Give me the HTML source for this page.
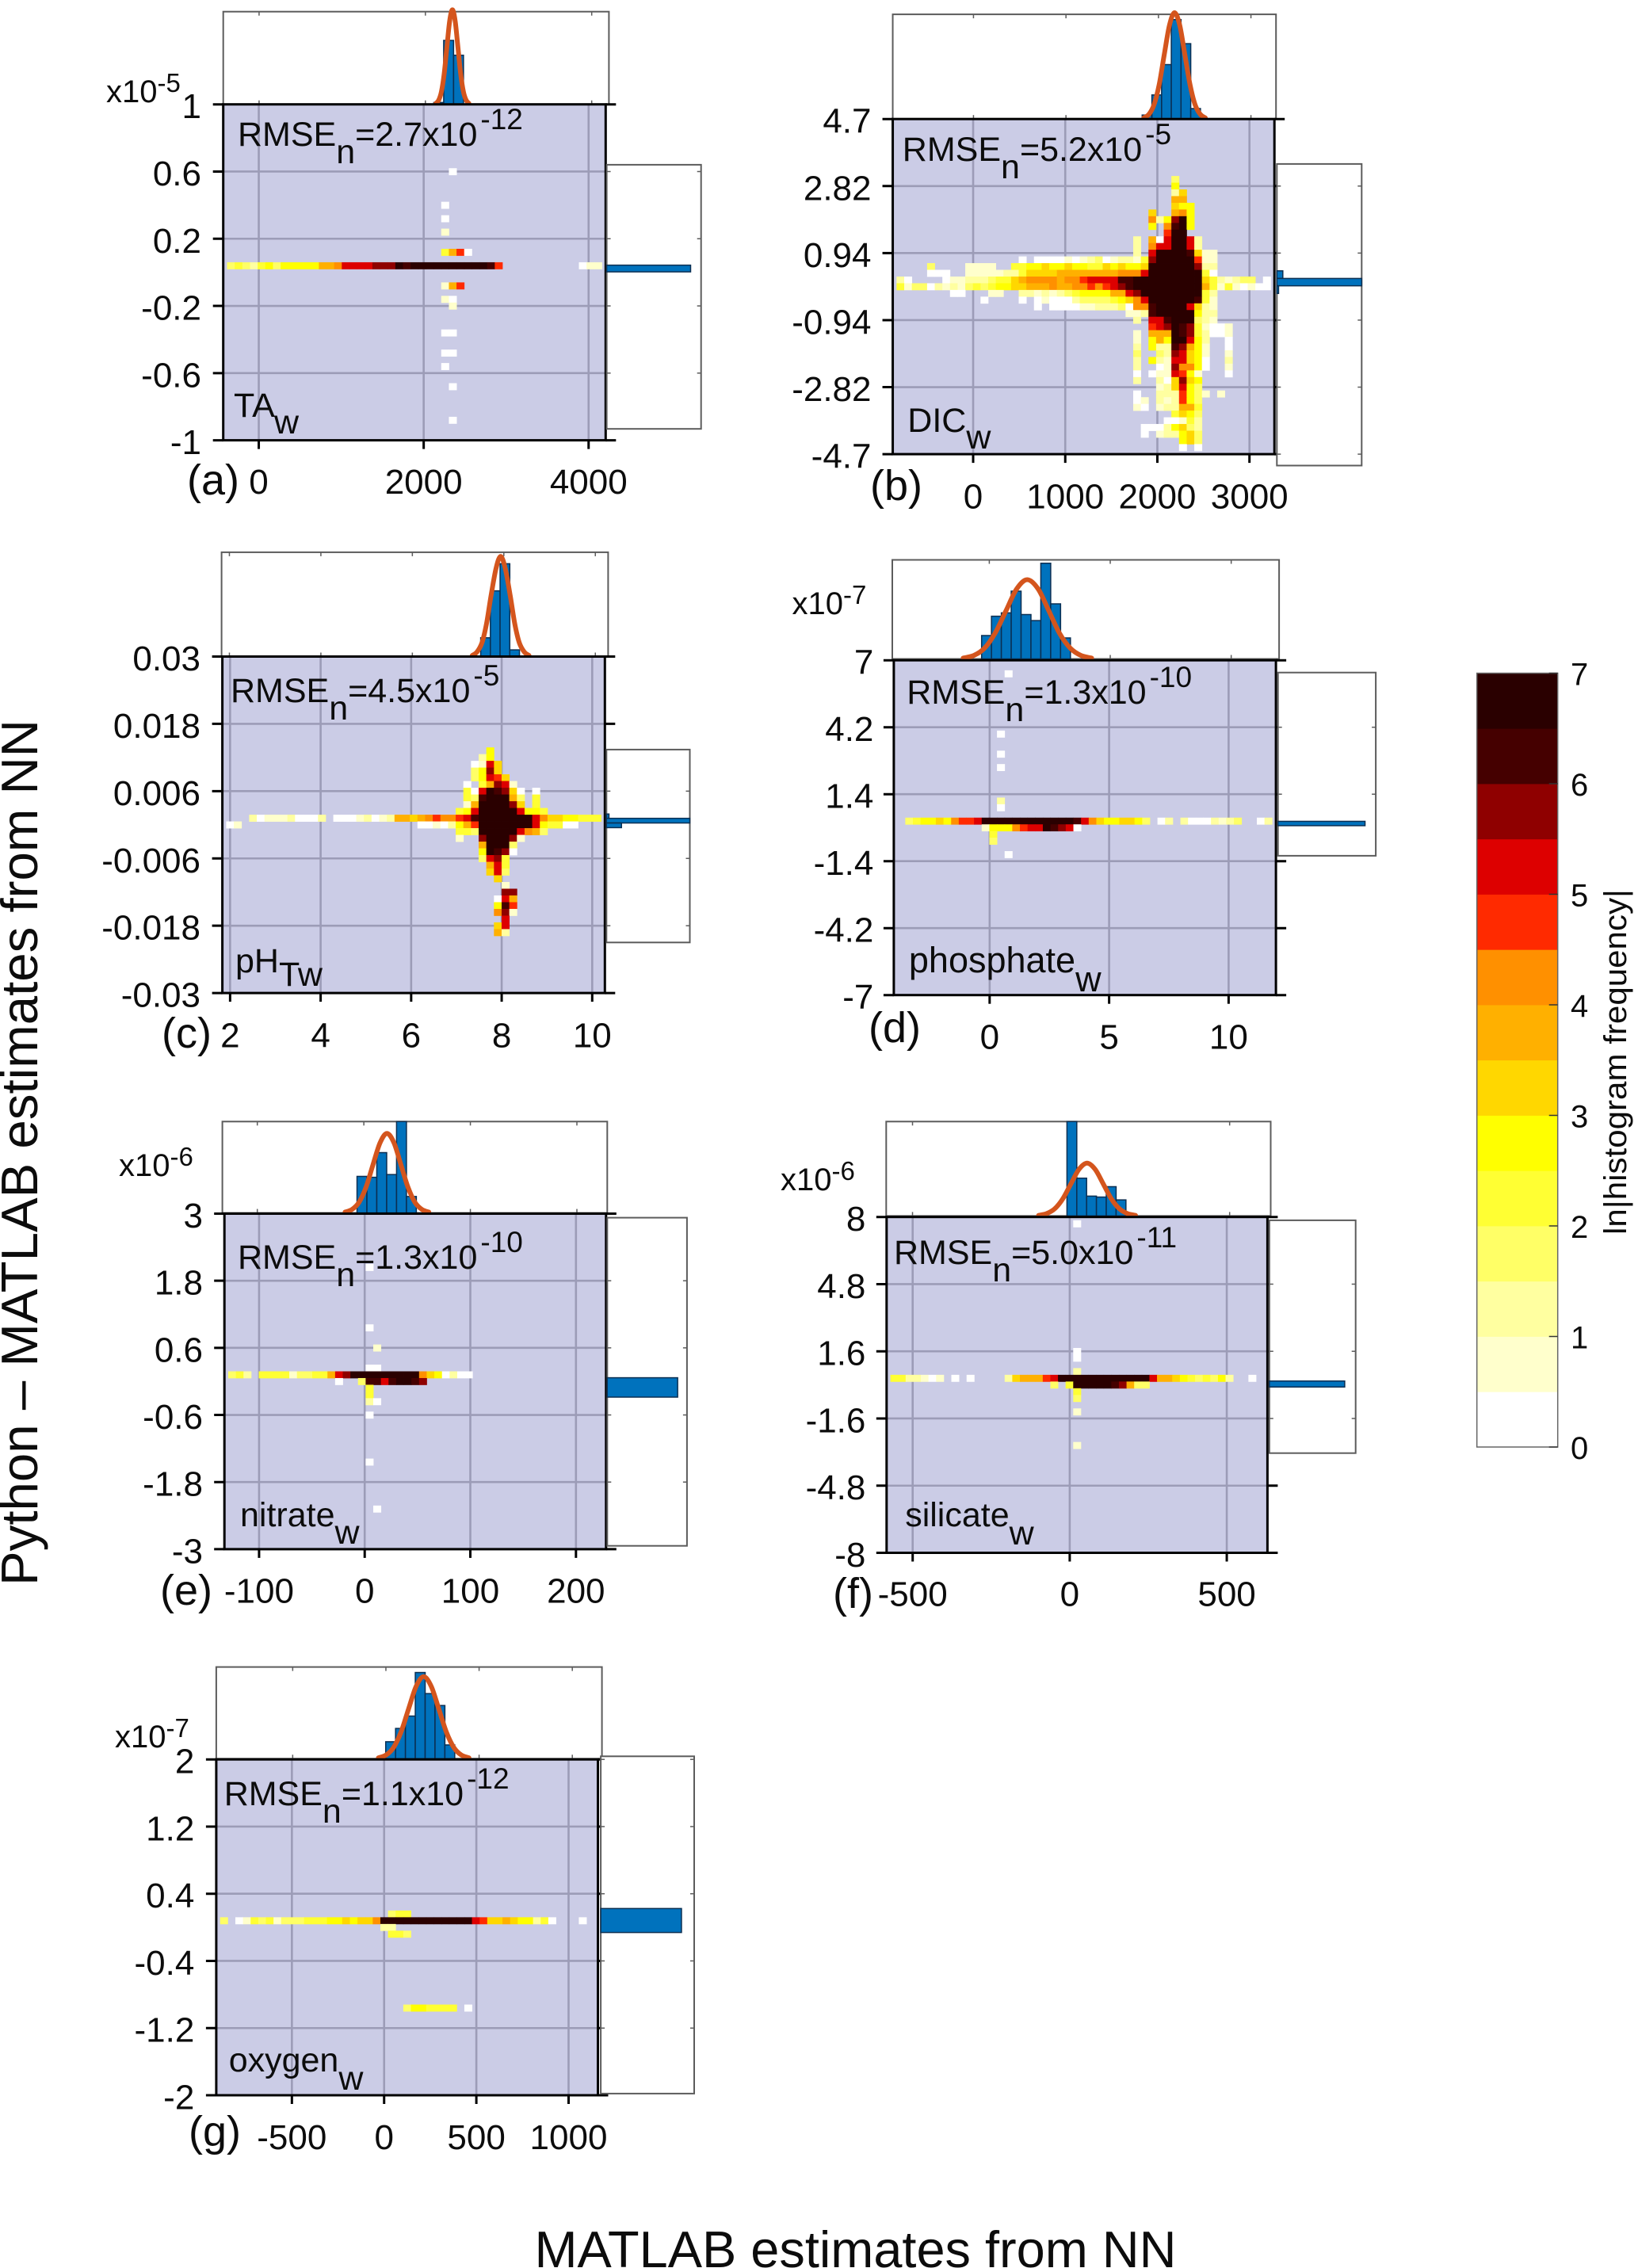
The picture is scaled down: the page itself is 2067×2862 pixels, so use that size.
<!DOCTYPE html>
<html lang="en">
<head>
<meta charset="utf-8">
<title>Python vs MATLAB NN estimates</title>
<style>
html,body{margin:0;padding:0;background:#fff;}
svg{display:block;}
text{font-family:"Liberation Sans",Arial,sans-serif;fill:#0c0c0c;}
</style>
</head>
<body>
<svg id="figure" xmlns="http://www.w3.org/2000/svg" width="2067" height="2862" viewBox="0 0 2067 2862">
  <rect x="0" y="0" width="2067" height="2862" fill="#fff"/>
  <g id="panels"></g>
  <g id="colorbar"></g>
  <g id="annotations">
    <text x="674.5" y="2861" font-size="65" textLength="810" lengthAdjust="spacingAndGlyphs">MATLAB estimates from NN</text>
    <text transform="translate(47,2001) rotate(-90)" font-size="65" textLength="1093" lengthAdjust="spacingAndGlyphs">Python – MATLAB estimates from NN</text>
    <text transform="translate(2052,1558) rotate(-90)" font-size="40" textLength="436" lengthAdjust="spacingAndGlyphs">ln|histogram frequency|</text>

    <text x="300" y="184" font-size="43">RMSE<tspan dy="22">n</tspan><tspan dy="-22">=2.7x10</tspan><tspan dy="-21" dx="4" font-size="37">-12</tspan></text>
    <text x="1138.8" y="203" font-size="43">RMSE<tspan dy="22">n</tspan><tspan dy="-22">=5.2x10</tspan><tspan dy="-21" dx="4" font-size="37">-5</tspan></text>
    <text x="291" y="886" font-size="43">RMSE<tspan dy="22">n</tspan><tspan dy="-22">=4.5x10</tspan><tspan dy="-21" dx="4" font-size="37">-5</tspan></text>
    <text x="1144.2" y="888" font-size="43">RMSE<tspan dy="22">n</tspan><tspan dy="-22">=1.3x10</tspan><tspan dy="-21" dx="4" font-size="37">-10</tspan></text>
    <text x="300" y="1601" font-size="43">RMSE<tspan dy="22">n</tspan><tspan dy="-22">=1.3x10</tspan><tspan dy="-21" dx="4" font-size="37">-10</tspan></text>
    <text x="1128" y="1595" font-size="43">RMSE<tspan dy="22">n</tspan><tspan dy="-22">=5.0x10</tspan><tspan dy="-21" dx="4" font-size="37">-11</tspan></text>
    <text x="282.7" y="2278" font-size="43">RMSE<tspan dy="22">n</tspan><tspan dy="-22">=1.1x10</tspan><tspan dy="-21" dx="4" font-size="37">-12</tspan></text>

    <text x="295" y="526" font-size="43">TA<tspan dy="21">w</tspan></text>
    <text x="1145.3" y="545" font-size="43">DIC<tspan dy="21">w</tspan></text>
    <text x="297" y="1227" font-size="43">pH<tspan dy="17">Tw</tspan></text>
    <text x="1146.9" y="1227" font-size="45">phosphate<tspan dy="24">w</tspan></text>
    <text x="303" y="1926" font-size="43">nitrate<tspan dy="22">w</tspan></text>
    <text x="1142.2" y="1926" font-size="43">silicate<tspan dy="23">w</tspan></text>
    <text x="288.7" y="2614" font-size="43">oxygen<tspan dy="23">w</tspan></text>

    <text x="236" y="624" font-size="54">(a)</text>
    <text x="1098" y="631" font-size="54">(b)</text>
    <text x="204" y="1322" font-size="54">(c)</text>
    <text x="1096" y="1315" font-size="54">(d)</text>
    <text x="202" y="2025" font-size="54">(e)</text>
    <text x="1051" y="2029" font-size="54">(f)</text>
    <text x="238" y="2708" font-size="54">(g)</text>

    <text x="134" y="129" font-size="40">x10<tspan dy="-13" font-size="33">-5</tspan></text>
    <text x="999.5" y="775" font-size="40">x10<tspan dy="-13" font-size="33">-7</tspan></text>
    <text x="150" y="1484" font-size="40">x10<tspan dy="-13" font-size="33">-6</tspan></text>
    <text x="985" y="1502" font-size="40">x10<tspan dy="-13" font-size="33">-6</tspan></text>
    <text x="145" y="2205" font-size="40">x10<tspan dy="-13" font-size="33">-7</tspan></text>
  </g>
</svg>
<script>
// gap marker inside heat rows
const _ = -1;

// Panel (a) TA
const aXTicks = [0, 2000, 4000];
const aYTicks = [1, 0.6, 0.2, -0.2, -0.6, -1];
const aYLabels = ['1', '0.6', '0.2', '-0.2', '-0.6', '-1'];
const aHeat = [
  [9,29,[0]],[14,28,[0]],[16,28,[0]],[18,28,[1]],
  [21,28,[4,7,9,0]],
  [23,0,[3,4,3,2,4,5,3,5,5,5,5,5,7,7,8,10,10,10,10,11,11,11,13,12,13,13,13,13,13,13,13,13,13,13,12,9]],
  [23,46,[0,1,1]],
  [26,28,[1,7,9]],[28,28,[1,0]],[29,29,[1]],[33,28,[0,0]],[36,28,[0,0]],[38,28,[0]],[41,29,[0]],[46,29,[0]]
];
const aHistStart = 2101;
const aHistWidth = 119;
const aHistHeights = [0.02, 0.69, 0.53];
const aFitX = [2127,2160,2193,2226,2259,2292,2325,2358,2391,2424,2457,2490,2523];
const aFitY = [0.011,0.045,0.138,0.33,0.62,0.90,1.02,0.90,0.62,0.33,0.138,0.045,0.011];
const aSideEdges = [0.0427, 0.0028];
const aSideHeights = [0.889];

// Panel (b) DIC
const bXTicks = [0, 1000, 2000, 3000];
const bYTicks = [4.7, 2.82, 0.94, -0.94, -2.82, -4.7];
const bYLabels = ['4.7', '2.82', '0.94', '-0.94', '-2.82', '-4.7'];
const bHeat = [
  [8,36,[3]],[9,36,[5]],[10,36,[2,6]],[11,36,[7,7]],[12,36,[6,5,5]],
  [13,33,[6,_,_,7,8,5]],[14,33,[8,2,5,11,13,5]],[15,33,[5,_,8,12,13,5]],[16,35,[9,13,13]],
  [17,31,[2,_,7,0,10,13,13,10,2]],[18,31,[2,_,8,10,10,13,13,10,2]],[19,31,[2,_,10,13,13,13,13,12,6,1,1]],
  [20,16,[0,_,0,0,0,0,1,0,1,2,3,0,1,2,2,1,4,11,13,13,13,13,13,9,1,1]],
  [21,4,[3]],[21,9,[1,1,1,1,_,_,4,4,5,5,6,5,5,6,5,5,4,4,6,5,6,5,5,6,13,13,13,13,13,13,11,2,2]],
  [22,4,[0,0,0,_,_,1,1,1,1,1,2,2,4,6,6,6,6,7,7,7,7,7,7,7,7,8,8,8,10,13,13,13,13,13,13,13,4,0]],
  [23,0,[2,0,_,_,_,_,0,1,1,2,2,2,3,4,4,6,7,8,8,8,8,7,8,8,9,10,10,10,10,12,12,13,13,13,13,13,13,13,13,13,6,4,2,1,2,3,3,_,0]],
  [24,0,[4,1,3,3,0,2,1,2,1,3,4,3,4,5,5,6,6,7,7,7,8,7,7,8,8,9,8,9,10,11,12,13,13,13,13,13,13,13,13,13,7,4,1,4,1,0,1,0,0]],
  [25,7,[0,0,_,_,_,1,1,_,_,2,2,1,2,1,2,3,4,5,5,5,5,7,7,10,11,13,13,13,13,13,13,13,13,4,2]],
  [26,11,[0]],[26,16,[0,_,0,1,0,0,0,2,3,3,3,3,4,5,6,8,10,13,13,13,13,13,13,12,4,1]],
  [27,18,[0,_,0,0,0,0,1,1,2,2,2,3,0,8,8,12,13,13,13,13,10,6,2,1]],
  [28,30,[1,1,2,12,13,13,13,13,13,5,2,2]],
  [29,31,[2,_,10,10,12,13,13,13,3,2,1]],
  [30,33,[9,10,11,13,12,11,4,1,0,0,1]],
  [31,31,[1,_,7,7,7,13,12,11,4,2,0,0,1]],
  [32,31,[1,_,5,7,5,13,13,10,5,2,_,_,0]],
  [33,31,[2,_,5,2,2,12,11,7,5,1,_,_,0]],
  [34,31,[3,_,_,3,2,11,10,6,5,1,_,_,1]],
  [35,31,[2,_,5,2,1,10,10,6,5,0,_,_,2]],
  [36,31,[2,_,_,0,1,11,8,8,5,0,_,_,1]],
  [37,31,[0,_,0,1,1,10,9,5,1,_,_,_,0]],
  [38,31,[2,_,_,2,0,6,11,6,5]],
  [39,34,[1,2,6,10,5,3]],
  [40,31,[0,_,_,2,2,2,9,5,3,1,_,1]],
  [41,31,[0,1,_,2,1,2,9,5,3]],
  [42,31,[1,0,_,1,2,2,7,7,4]],
  [43,36,[4,6,5,3]],
  [44,35,[0,0,1,4,2]],
  [45,32,[0,0,0,2,5,6,3,2]],
  [46,32,[0,_,1,2,2,5,6,3]],
  [47,37,[5,6,3]],
  [48,37,[0,_,0]]
];
const bHistStart = 1824;
const bHistWidth = 105;
const bHistHeights = [0.038, 0.23, 0.52, 0.95, 0.72, 0.10];
const bFitX = [1841,1897,1952,2008,2063,2119,2174,2230,2285,2341,2396,2452,2507];
const bFitY = [0.011,0.045,0.137,0.33,0.617,0.896,1.016,0.896,0.617,0.33,0.137,0.045,0.011];
const bSideEdges = [0.442, 0.228, 0.022, -0.192];
const bSideHeights = [0.07, 1.0, 0.02];

// Panel (c) pH
const cXTicks = [2, 4, 6, 8, 10];
const cYTicks = [0.03, 0.018, 0.006, -0.006, -0.018, -0.03];
const cYLabels = ['0.03', '0.018', '0.006', '-0.006', '-0.018', '-0.03'];
const cHeat = [
  [13,34,[5]],[14,33,[2,5]],[15,32,[0,1,10,6]],[16,32,[3,5,11,6]],[17,32,[3,5,10,9,6]],
  [18,31,[0,_,4,7,11,10,1]],
  [19,31,[4,0,10,13,12,11,6,0,_,0]],
  [20,31,[4,3,12,13,13,13,7,3,_,4]],
  [21,31,[1,7,13,13,13,13,11,6,_,4]],
  [22,30,[4,5,10,13,13,13,13,13,10,5,5,4]],
  [23,3,[2,0,1,1,1,2,0,0,0,2,_,0,0,0,1,2,0,1,2,7,7,6,7,8,9,8,8,9,10,12,13,13,13,13,13,13,13,10,8,6,6,5,5,4,4,4]],
  [24,0,[0,1]],[24,25,[0,0,1,0,2,5,7,9,13,13,13,13,13,13,13,10,5,4,4,0,0]],
  [25,30,[4,4,3,13,13,13,13,13,10,8,7,3]],
  [26,30,[1,_,_,11,13,13,13,11,1]],
  [27,33,[7,13,13,13,3]],
  [28,33,[5,13,12,11,0]],
  [29,33,[3,10,11,4]],
  [30,34,[7,10,4]],[31,34,[6,10,3]],[32,35,[6]],[33,36,[1]],
  [34,36,[11,11]],[35,35,[0,10,7]],[36,35,[5,12,9]],[37,35,[8,11,1]],[38,36,[10]],[39,35,[6,10]],[40,35,[7,2]]
];
const cHistStart = 7.494;
const cHistWidth = 0.212;
const cHistHeights = [0.18, 0.63, 0.89, 0.064];
const cFitX = [7.31,7.41,7.52,7.62,7.72,7.83,7.93,8.03,8.14,8.24,8.34,8.45,8.55];
const cFitY = [0.011,0.042,0.13,0.312,0.583,0.847,0.96,0.847,0.583,0.312,0.13,0.042,0.011];
const cSideEdges = [0.00192, 0.00115, 0.00032, -0.00051];
const cSideHeights = [0.03, 1.0, 0.18];

// Panel (d) phosphate
const dXTicks = [0, 5, 10];
const dYTicks = [7, 4.2, 1.4, -1.4, -4.2, -7];
const dYLabels = ['7', '4.2', '1.4', '-1.4', '-4.2', '-7'];
const dHeat = [
  [1,14,[0]],[10,13,[0]],[13,13,[0]],[15,13,[0]],[20,13,[2]],[21,13,[0]],
  [23,1,[3,4,5,5,6,5,8,9,9,10,13,13,13,13,13,13,13,13,13,13,13,13,12,10,8,6,5,5,6,6,5,3]],
  [23,34,[0,2]],[23,37,[2,0,0,0,2,1,2,3]],[23,47,[0,2]],
  [24,11,[1,5,5,5,8,9,10,10,13,12,11,10,0]],
  [25,12,[4]],[26,12,[3]],[28,14,[0]]
];
const dHistStart = -0.318;
const dHistWidth = 0.408;
const dHistHeights = [0.236, 0.431, 0.465, 0.684, 0.448, 0.387, 0.966, 0.556, 0.212];
const dFitX = [-1.08,-0.64,-0.20,0.24,0.69,1.13,1.57,2.02,2.46,2.90,3.35,3.79,4.23];
const dFitY = [0.009,0.035,0.108,0.26,0.486,0.706,0.80,0.706,0.486,0.26,0.108,0.035,0.009];
const dSideEdges = [0.265, 0.084];
const dSideHeights = [0.89];

// Panel (e) nitrate
const eXTicks = [-100, 0, 100, 200];
const eYTicks = [3, 1.8, 0.6, -0.6, -1.8, -3];
const eYLabels = ['3', '1.8', '0.6', '-0.6', '-1.8', '-3'];
const eHeat = [
  [7,18,[0]],[16,18,[0]],[19,19,[1]],[22,18,[0,0]],
  [23,0,[3,4,2,_,4,4,4,4,1,3,3,4,4,7,10,11,13,13,13,13,13,13,13,13,13,8,6,5,0,2,0,0]],
  [24,14,[0,_,_,3,12,12,10,12,13,13,12,11]],
  [25,18,[4]],[26,18,[4]],[27,18,[2,0]],[29,18,[0]],[36,18,[0]],[43,19,[0]]
];
const eHistStart = -6.4;
const eHistWidth = 9.28;
const eHistHeights = [0.40, 0.39, 0.66, 0.42, 1.0, 0.18];
const eFitX = [-17.6,-11.1,-4.5,2.1,8.6,15.2,21.7,28.3,34.8,41.4,47.9,54.5,61];
const eFitY = [0.01,0.038,0.117,0.283,0.528,0.767,0.87,0.767,0.528,0.283,0.117,0.038,0.01];
const eSideEdges = [0.0656, -0.281];
const eSideHeights = [0.883];

// Panel (f) silicate
const fXTicks = [-500, 0, 500];
const fYTicks = [8, 4.8, 1.6, -1.6, -4.8, -8];
const fYLabels = ['8', '4.8', '1.6', '-1.6', '-4.8', '-8'];
const fHeat = [
  [0,24,[0]],[19,24,[0]],[20,24,[0]],[22,24,[2]],
  [23,0,[4,4,2,2,1,0,1,_,0,_,0]],
  [23,15,[2,6,7,7,7,9,10,13,13,13,13,13,13,13,13,13,13,13,13,10,7,7,6,5,4,3,4,3,5,2]],
  [23,47,[0]],
  [24,21,[3,_,4,13,13,13,13,13,12,11,7,3,3]],
  [25,24,[4]],[26,24,[3]],[28,24,[1]],[33,24,[1]]
];
const fHistStart = -13;
const fHistWidth = 31;
const fHistHeights = [1.0, 0.40, 0.21, 0.20, 0.31, 0.17];
const fFitX = [-102.6,-77.1,-51.6,-26.1,-0.6,24.9,50.4,75.9,101.4,126.9,152.4,177.9,203.4];
const fFitY = [0.006,0.025,0.076,0.182,0.34,0.494,0.56,0.494,0.34,0.182,0.076,0.025,0.006];
const fSideEdges = [0.184, -0.10];
const fSideHeights = [0.873];

// Panel (g) oxygen
const gXTicks = [-500, 0, 500, 1000];
const gYTicks = [2, 1.2, 0.4, -0.4, -1.2, -2];
const gYLabels = ['2', '1.2', '0.4', '-0.4', '-1.2', '-2'];
const gHeat = [
  [22,22,[3,4,4]],
  [23,0,[3,_,0,1,4,3,4,1,3,3,3,4,4,4,5,5,6,5,6,6,8,13,13,13,13,13,13,13,13,13,13,13,13,10,9,6,6,7,6,5,5,2,4,0]],
  [23,47,[0]],
  [24,21,[2,2]],
  [25,22,[4,4,3]],
  [36,24,[3,5,5,4,4,4,4,_,0]]
];
const gHistStart = -1;
const gHistWidth = 52.9;
const gHistHeights = [0.185, 0.33, 0.465, 0.94, 0.71, 0.58, 0.15];
const gFitX = [-40.3,0.2,40.7,81.2,121.7,162.2,202.7,243.2,283.7,324.2,364.7,405.2,445.7];
const gFitY = [0.01,0.039,0.121,0.291,0.543,0.789,0.895,0.789,0.543,0.291,0.121,0.039,0.01];
const gSideEdges = [0.224, -0.0615];
const gSideHeights = [0.864];

// Colorbar
const colorbarTicks = [0, 1, 2, 3, 4, 5, 6, 7];
const colorbarLevels = [0,1,2,3,4,5,6,7,8,9,10,11,12,13];
const levelColors = ['#ffffff','#ffffcc','#ffffa0','#ffff66','#ffff33','#ffff00','#ffd700','#ffb000','#ff9000','#ff2a00','#dd0000','#8f0000','#450000','#2a0000'];

const panels = [
  {id:'a',main:[281.7,131.7,764.3,555.6],top:[281.7,14.7,768.4,131.7],side:[765.6,207.9,884.7,541.2],xDom:[-431,4207],yDom:[-1,1],xLabelY:622.8,yLabelRight:254,
   xTicks:aXTicks,yTicks:aYTicks,yLabels:aYLabels,heat:aHeat,histStart:aHistStart,histWidth:aHistWidth,histHeights:aHistHeights,fitX:aFitX,fitY:aFitY,sideEdges:aSideEdges,sideHeights:aSideHeights},
  {id:'b',main:[1126.55,150.2,1608.2,573.1],top:[1126.55,18.1,1610.2,150.2],side:[1611.3,206.9,1718.3,587.5],xDom:[-873,3271],yDom:[-4.7,4.7],xLabelY:641.7,yLabelRight:1099.5,
   xTicks:bXTicks,yTicks:bYTicks,yLabels:bYLabels,heat:bHeat,histStart:bHistStart,histWidth:bHistWidth,histHeights:bHistHeights,fitX:bFitX,fitY:bFitY,sideEdges:bSideEdges,sideHeights:bSideHeights},
  {id:'c',main:[280.6,828.5,763.3,1253.1],top:[279.6,696.9,767.4,828.5],side:[765.3,945.9,870.5,1189.3],xDom:[1.829,10.28],yDom:[-0.03,0.03],xLabelY:1321.7,yLabelRight:253,
   xTicks:cXTicks,yTicks:cYTicks,yLabels:cYLabels,heat:cHeat,histStart:cHistStart,histWidth:cHistWidth,histHeights:cHistHeights,fitX:cFitX,fitY:cFitY,sideEdges:cSideEdges,sideHeights:cSideHeights},
  {id:'d',main:[1127.9,833.2,1610.1,1255.7],top:[1126,706.5,1614.1,831.5],side:[1612.7,848.7,1736.1,1079.9],xDom:[-4.01,11.98],yDom:[-7,7],xLabelY:1323.7,yLabelRight:1102.4,
   xTicks:dXTicks,yTicks:dYTicks,yLabels:dYLabels,heat:dHeat,histStart:dHistStart,histWidth:dHistWidth,histHeights:dHistHeights,fitX:dFitX,fitY:dFitY,sideEdges:dSideEdges,sideHeights:dSideHeights},
  {id:'e',main:[283.2,1531.5,764.8,1954.9],top:[280.6,1415.3,766.3,1530.6],side:[766.3,1536.6,866.9,1950.7],xDom:[-132.8,228.5],yDom:[-3,3],xLabelY:2022.7,yLabelRight:256,
   xTicks:eXTicks,yTicks:eYTicks,yLabels:eYLabels,heat:eHeat,histStart:eHistStart,histWidth:eHistWidth,histHeights:eHistHeights,fitX:eFitX,fitY:eFitY,sideEdges:eSideEdges,sideHeights:eSideHeights},
  {id:'f',main:[1118.8,1535.7,1599.4,1959.5],top:[1118.3,1415.3,1603.5,1534.4],side:[1601.8,1539.9,1710.7,1833.7],xDom:[-583,629.5],yDom:[-8,8],xLabelY:2026.7,yLabelRight:1092.4,
   xTicks:fXTicks,yTicks:fYTicks,yLabels:fYLabels,heat:fHeat,histStart:fHistStart,histWidth:fHistWidth,histHeights:fHistHeights,fitX:fFitX,fitY:fFitY,sideEdges:fSideEdges,sideHeights:fSideHeights},
  {id:'g',main:[272.9,2220.2,754.5,2644],top:[272.9,2103.6,759.6,2219.3],side:[758.1,2216.3,876,2641.9],xDom:[-910,1159],yDom:[-2,2],xLabelY:2711.8,yLabelRight:245.3,
   xTicks:gXTicks,yTicks:gYTicks,yLabels:gYLabels,heat:gHeat,histStart:gHistStart,histWidth:gHistWidth,histHeights:gHistHeights,fitX:gFitX,fitY:gFitY,sideEdges:gSideEdges,sideHeights:gSideHeights}
];

const NS = 'http://www.w3.org/2000/svg';
const GRID_BINS = 50;

function mk(tag, attrs, parent) {
  const el = document.createElementNS(NS, tag);
  for (const k in attrs) el.setAttribute(k, attrs[k]);
  parent.appendChild(el);
  return el;
}
function linear(d0, d1, r0, r1) {
  return function (v) { return r0 + (v - d0) * (r1 - r0) / (d1 - d0); };
}
function smoothPath(pts) {
  let d = 'M' + pts[0][0] + ' ' + pts[0][1];
  for (let i = 0; i < pts.length - 1; i++) {
    const p0 = pts[Math.max(0, i - 1)], p1 = pts[i], p2 = pts[i + 1], p3 = pts[Math.min(pts.length - 1, i + 2)];
    const c1x = p1[0] + (p2[0] - p0[0]) / 6, c1y = p1[1] + (p2[1] - p0[1]) / 6;
    const c2x = p2[0] - (p3[0] - p1[0]) / 6, c2y = p2[1] - (p3[1] - p1[1]) / 6;
    d += ' C' + c1x + ' ' + c1y + ' ' + c2x + ' ' + c2y + ' ' + p2[0] + ' ' + p2[1];
  }
  return d;
}

function drawTopHist(p, root) {
  const [l, t, r, b] = p.top;
  const g = mk('g', {}, root);
  
  
  const x = linear(p.xDom[0], p.xDom[1], l, r);
  const y = linear(0, 1, b, t);
  const box = mk('rect', {x:l, y:t, width:r-l, height:b-t, fill:'#fff', stroke:'#5c5c5c', 'stroke-width':2}, g);
  
  
  p.xTicks.forEach(function (v) {
    const t1 = mk('line', {x1:x(v), x2:x(v), y1:t, y2:t+5, stroke:'#5c5c5c', 'stroke-width':1.5}, g);
    
    
    const t2 = mk('line', {x1:x(v), x2:x(v), y1:b, y2:b-5, stroke:'#5c5c5c', 'stroke-width':1.5}, g);
    
    
  });
  p.histHeights.forEach(function (h, i) {
    const x0 = x(p.histStart + i * p.histWidth), x1 = x(p.histStart + (i + 1) * p.histWidth);
    const bar = mk('rect', {x:x0, y:y(h), width:x1-x0, height:b-y(h), fill:'#0072bd', stroke:'#0b2f52', 'stroke-width':1.5}, g);
    
    
  });
  const pts = p.fitX.map(function (v, i) { return [x(v), y(p.fitY[i])]; });
  const curve = mk('path', {d:smoothPath(pts), fill:'none', stroke:'#d4551d', 'stroke-width':6, 'stroke-linecap':'round'}, g);
  
  
}

function drawMain(p, root) {
  const [l, t, r, b] = p.main;
  const g = mk('g', {}, root);
  
  
  const x = linear(p.xDom[0], p.xDom[1], l, r);
  const y = linear(p.yDom[0], p.yDom[1], b, t);
  const bg = mk('rect', {x:l, y:t, width:r-l, height:b-t, fill:'#cbcce6'}, g);
  
  
  p.xTicks.forEach(function (v) {
    const gl = mk('line', {x1:x(v), x2:x(v), y1:t, y2:b, stroke:'#9c9cb7', 'stroke-width':2.6}, g);
    
    
  });
  p.yTicks.forEach(function (v) {
    const gl = mk('line', {x1:l, x2:r, y1:y(v), y2:y(v), stroke:'#9c9cb7', 'stroke-width':2.6}, g);
    
    
  });
  const dx = (p.xDom[1] - p.xDom[0]) / GRID_BINS, dy = (p.yDom[1] - p.yDom[0]) / GRID_BINS;
  p.heat.forEach(function (row) {
    const rowIndex = row[0], startCol = row[1], levels = row[2];
    levels.forEach(function (lvl, k) {
      if (lvl < 0) return;
      const col = startCol + k;
      const cx0 = x(p.xDom[0] + (col + 0.5) * dx), cx1 = x(p.xDom[0] + (col + 1.5) * dx);
      const cy0 = y(p.yDom[1] - (rowIndex + 0.5) * dy), cy1 = y(p.yDom[1] - (rowIndex + 1.5) * dy);
      const c = mk('rect', {x:cx0, y:cy0, width:cx1-cx0+0.4, height:cy1-cy0+0.4, fill:levelColors[lvl]}, g);
      
      
    });
  });
  const frame = mk('rect', {x:l, y:t, width:r-l, height:b-t, fill:'none', stroke:'#000', 'stroke-width':3}, g);
  
  
  p.yTicks.forEach(function (v, i) {
    const tk = mk('line', {x1:l-13, x2:r+13, y1:y(v), y2:y(v), stroke:'#000', 'stroke-width':3, 'stroke-dasharray':'13 '+(r-l)+' 13'}, g);
    
    
    const lab = mk('text', {x:p.yLabelRight, y:y(v)+17.5, 'font-size':44, 'text-anchor':'end'}, g);
    
    
    lab.textContent = p.yLabels[i];
  });
  p.xTicks.forEach(function (v) {
    const tk = mk('line', {x1:x(v), x2:x(v), y1:b, y2:b+11, stroke:'#000', 'stroke-width':3}, g);
    
    
    const lab = mk('text', {x:x(v), y:p.xLabelY, 'font-size':44, 'text-anchor':'middle'}, g);
    
    
    lab.textContent = String(v);
  });
}

function drawSideHist(p, root) {
  const [l, t, r, b] = p.side;
  const g = mk('g', {}, root);
  
  
  const y = linear(p.yDom[0], p.yDom[1], p.main[3], p.main[1]);
  const x = linear(0, 1, l, r);
  const box = mk('rect', {x:l, y:t, width:r-l, height:b-t, fill:'#fff', stroke:'#5c5c5c', 'stroke-width':2}, g);
  
  
  p.yTicks.forEach(function (v) {
    const py = y(v);
    if (py <= t + 2 || py >= b - 2) return;
    const t1 = mk('line', {x1:l, x2:l+5, y1:py, y2:py, stroke:'#5c5c5c', 'stroke-width':1.5}, g);
    
    
    const t2 = mk('line', {x1:r, x2:r-5, y1:py, y2:py, stroke:'#5c5c5c', 'stroke-width':1.5}, g);
    
    
  });
  p.sideHeights.forEach(function (h, i) {
    const y0 = y(p.sideEdges[i]), y1 = y(p.sideEdges[i + 1]);
    const bar = mk('rect', {x:l, y:y0, width:x(h)-l, height:y1-y0, fill:'#0072bd', stroke:'#0b2f52', 'stroke-width':1.5}, g);
    
    
  });
}

const panelRoot = document.getElementById('panels');
panels.forEach(function (p) {
  drawTopHist(p, panelRoot);
  drawMain(p, panelRoot);
  drawSideHist(p, panelRoot);
});

// Colorbar drawing
(function () {
  const root = document.getElementById('colorbar');
  const L = 1863.7, R = 1965.7, T = 849.5, B = 1826;
  const cy = linear(0, 7, B, T);
  colorbarLevels.forEach(function (lvl) {
    const y0 = cy((lvl + 1) / 2), y1 = cy(lvl / 2);
    const seg = mk('rect', {x:L, y:y0, width:R-L, height:y1-y0+0.4, fill:levelColors[lvl]}, root);
    
    
  });
  const frame = mk('rect', {x:L, y:T, width:R-L, height:B-T, fill:'none', stroke:'#666', 'stroke-width':1.5}, root);
  
  
  colorbarTicks.forEach(function (v) {
    const tk = mk('line', {x1:R-11, x2:R, y1:cy(v), y2:cy(v), stroke:'#333', 'stroke-width':1.5}, root);
    
    
    const lab = mk('text', {x:1982, y:cy(v)+15, 'font-size':40}, root);
    
    
    lab.textContent = String(v);
  });
})();
</script>
</body>
</html>
